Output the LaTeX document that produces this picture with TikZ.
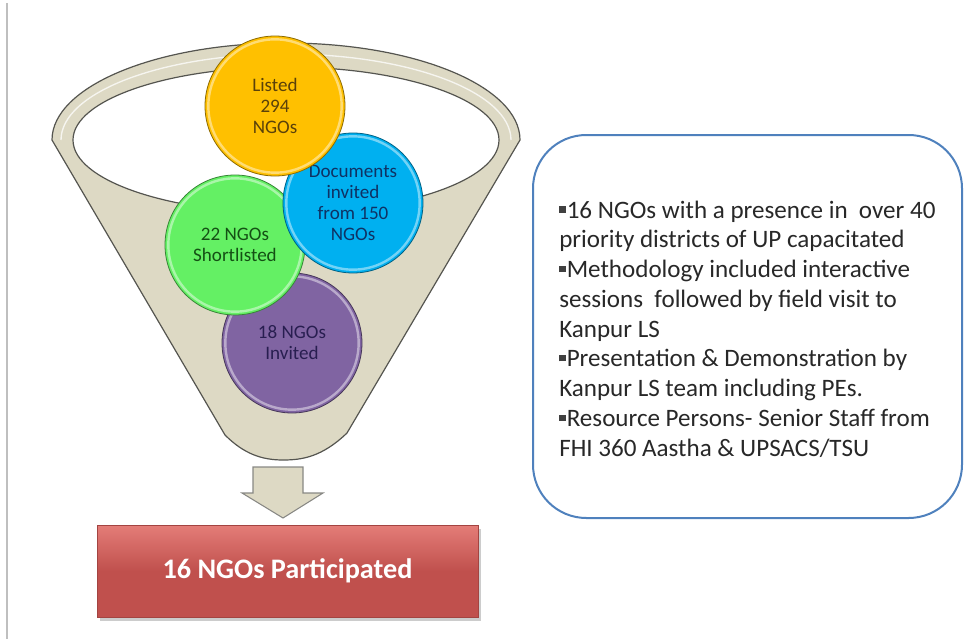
\documentclass[tikz,border=0pt]{standalone}
\usepackage{fontspec}
\setmainfont{Carlito}
\definecolor{funnelfill}{RGB}{221,217,196}
\definecolor{funneledge}{RGB}{85,85,80}
\definecolor{cyellow}{RGB}{255,192,0}
\definecolor{cblue}{RGB}{0,176,240}
\definecolor{cgreen}{RGB}{100,240,100}
\definecolor{cpurple}{RGB}{128,100,162}
\definecolor{boxblue}{RGB}{79,129,189}
\definecolor{redbox}{RGB}{192,80,77}
\definecolor{redtop}{RGB}{228,125,120}
\definecolor{bodytext}{RGB}{40,40,40}
\newcommand{\sqbul}{\textcolor{black!75}{\rule[0.22em]{0.25em}{0.25em}}\hspace{0.05em}}
\begin{document}
\begin{tikzpicture}[x=0.75pt,y=-0.75pt,
  ball/.style={circle, minimum size=105pt, inner sep=0pt, align=center,
    font=\fontsize{14.3}{15.75}\selectfont, fill=#1, draw=#1!55!black, line width=0.6pt,
    path picture={\draw[white,opacity=0.45,line width=1.8pt]
      (path picture bounding box.center) circle[radius=50pt];}},
  funnelline/.style={draw=funneledge, line width=0.9pt}]
\useasboundingbox (0,0) rectangle (965,639);
% left rule
\draw[black!25, line width=1.5pt] (7,3) -- (7,639);
% funnel
\filldraw[fill=funnelfill, funnelline]
  (52,140) arc[start angle=180, end angle=360, x radius=234, y radius=97]
  -- (347,433) .. controls (322,457) and (302,460) .. (283,460)
  .. controls (262,460) and (244,454) .. (225,435) -- cycle;
\draw[white, opacity=0.75, line width=1pt]
  (61,140) arc[start angle=180, end angle=360, x radius=225, y radius=86];
\filldraw[fill=white, funnelline] (286,140) ellipse[x radius=213, y radius=73];
% circles
\node[ball=cpurple, text={rgb,255:red,40;green,30;blue,80}] (invited) at (292,343) {18 NGOs\\Invited};
\node[ball=cgreen, text={rgb,255:red,20;green,80;blue,20}] (short) at (235,245) {22 NGOs\\Shortlisted};
\node[ball=cblue, text={rgb,255:red,15;green,50;blue,100}] (docs) at (353,203) {Documents\\invited\\from 150\\NGOs};
\node[ball=cyellow, text={rgb,255:red,90;green,65;blue,10}] (listed) at (275,106) {Listed\\294\\NGOs};
% arrow
\filldraw[fill=funnelfill, draw=funneledge!70, line width=0.8pt]
  (253,467) -- (303,467) -- (303,493) -- (323,493) -- (283,518) -- (242,493) -- (253,493) -- cycle;
% result box
\fill[black!20] (100,529) rectangle (481,621);
\node[rectangle, minimum width=285.75pt, minimum height=69pt, inner sep=0pt,
  top color=redtop, bottom color=redbox, middle color=redbox, draw=redbox!85!black, line width=0.4pt,
  text=white, font=\bfseries\fontsize{21.2}{24}\selectfont] (part) at (287.5,571) {16 NGOs Participated};
% info box
\node[draw=boxblue, line width=1.5pt, rounded corners=40pt, fill=white,
  minimum width=321.75pt, minimum height=287.25pt, inner sep=0pt] (info) at (747.5,326.5) {};
\node[anchor=west, align=left, inner sep=0pt, text=bodytext,
  font=\fontsize{18.8}{22.3}\selectfont] (infotext) at (559,329)
  {\sqbul16 NGOs with a presence in \ over 40\\
   priority districts of UP capacitated\\
   \sqbul Methodology included interactive\\
   sessions \ followed by field visit to\\
   Kanpur LS\\
   \sqbul Presentation \& Demonstration by\\
   Kanpur LS team including PEs.\\
   \sqbul Resource Persons- Senior Staff from\\
   FHI 360 Aastha \& UPSACS/TSU};
\end{tikzpicture}
\end{document}
